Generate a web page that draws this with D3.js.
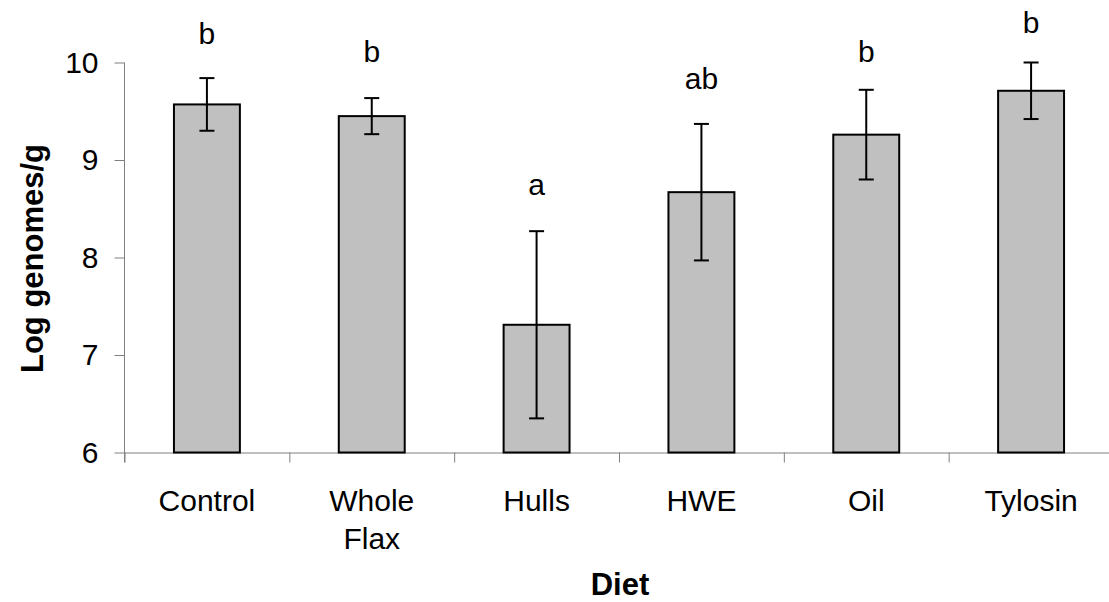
<!DOCTYPE html>
<html>
<head>
<meta charset="utf-8">
<script src="https://cdn.jsdelivr.net/npm/d3@7"></script>
<style>
  html, body { margin: 0; padding: 0; background: #fff; }
  svg { display: block; font-family: "Liberation Sans", Arial, sans-serif; }
</style>
</head>
<body>
<svg id="chart" width="1109" height="602"></svg>
<script>
const categories = ["Control", "Whole Flax", "Hulls", "HWE", "Oil", "Tylosin"];
const means = [9.57, 9.45, 7.31, 8.67, 9.26, 9.71];
const errors = [0.27, 0.185, 0.96, 0.70, 0.46, 0.29];
const letters = ["b", "b", "a", "ab", "b", "b"];
const letterPos = [10.19, 10.01, 8.64, 9.73, 10.01, 10.30];
const yTicks = [6, 7, 8, 9, 10];

const svg = d3.select("#chart");
const mLeft = 124.5, mRight = 1113.5, mTop = 62.5, mBottom = 452.5;

const x = d3.scaleBand().domain(categories).range([mLeft, mRight]).paddingInner(0).paddingOuter(0);
const xEdges = d3.scaleLinear().domain([0, categories.length]).range([mLeft, mRight]);
const y = d3.scaleLinear().domain([6, 10]).range([mBottom, mTop]);

const axisColor = "#808080";
const fontSize = 30;

// Y axis
const yAxis = svg.append("g")
  .attr("transform", `translate(${mLeft},0)`)
  .call(d3.axisLeft(y).tickValues(yTicks).tickFormat(d3.format("d")).tickSize(10).tickPadding(16).tickSizeOuter(0));
yAxis.select(".domain").attr("stroke", axisColor).attr("d", `M0,${mTop}V${mBottom + 10}`);
yAxis.selectAll(".tick line").attr("stroke", axisColor);
yAxis.selectAll(".tick text").attr("font-size", fontSize).attr("fill", "#000")
  .attr("font-family", "Liberation Sans, Arial, sans-serif");

// X axis (ticks at category boundaries)
const xAxis = svg.append("g")
  .attr("transform", `translate(0,${mBottom})`)
  .call(d3.axisBottom(xEdges).tickValues(d3.range(0, categories.length + 1)).tickFormat("").tickSize(10).tickSizeOuter(0));
xAxis.select(".domain").attr("stroke", axisColor);
xAxis.selectAll(".tick line").attr("stroke", axisColor);

// Bars
const barW = x.bandwidth() * 0.4;
svg.append("g").selectAll("rect")
  .data(categories)
  .join("rect")
  .attr("x", d => x(d) + (x.bandwidth() - barW) / 2)
  .attr("y", (d, i) => y(means[i]))
  .attr("width", barW)
  .attr("height", (d, i) => y(6) - y(means[i]))
  .attr("fill", "#c0c0c0")
  .attr("stroke", "#000")
  .attr("stroke-width", 2);

// Error bars
const eg = svg.append("g").attr("stroke", "#000").attr("stroke-width", 2);
categories.forEach((c, i) => {
  const cx = x(c) + x.bandwidth() / 2;
  const hi = y(means[i] + errors[i]);
  const lo = y(means[i] - errors[i]);
  eg.append("line").attr("x1", cx).attr("x2", cx).attr("y1", hi).attr("y2", lo);
  eg.append("line").attr("x1", cx - 7.5).attr("x2", cx + 7.5).attr("y1", hi).attr("y2", hi);
  eg.append("line").attr("x1", cx - 7.5).attr("x2", cx + 7.5).attr("y1", lo).attr("y2", lo);
});

// Significance letters
svg.append("g").selectAll("text")
  .data(categories)
  .join("text")
  .attr("x", d => x(d) + x.bandwidth() / 2)
  .attr("y", (d, i) => y(letterPos[i]))
  .attr("text-anchor", "middle")
  .attr("font-size", fontSize)
  .text((d, i) => letters[i]);

// Category labels
const labels = svg.append("g").selectAll("text")
  .data(categories)
  .join("text")
  .attr("x", d => x(d) + x.bandwidth() / 2)
  .attr("y", mBottom + 58)
  .attr("text-anchor", "middle")
  .attr("font-size", fontSize);
labels.each(function(d) {
  const t = d3.select(this);
  const cx = x(d) + x.bandwidth() / 2;
  d.split(" ").forEach((w, k) => {
    t.append("tspan").attr("x", cx).attr("dy", k === 0 ? 0 : 38).text(w);
  });
});

// Axis titles
svg.append("text")
  .attr("x", 620)
  .attr("y", 595)
  .attr("text-anchor", "middle")
  .attr("font-size", 31)
  .attr("font-weight", "bold")
  .text("Diet");

svg.append("text")
  .attr("transform", `translate(43,${(mTop + mBottom) / 2 + 1}) rotate(-90)`)
  .attr("text-anchor", "middle")
  .attr("font-size", 31)
  .attr("font-weight", "bold")
  .text("Log genomes/g");
</script>
</body>
</html>
